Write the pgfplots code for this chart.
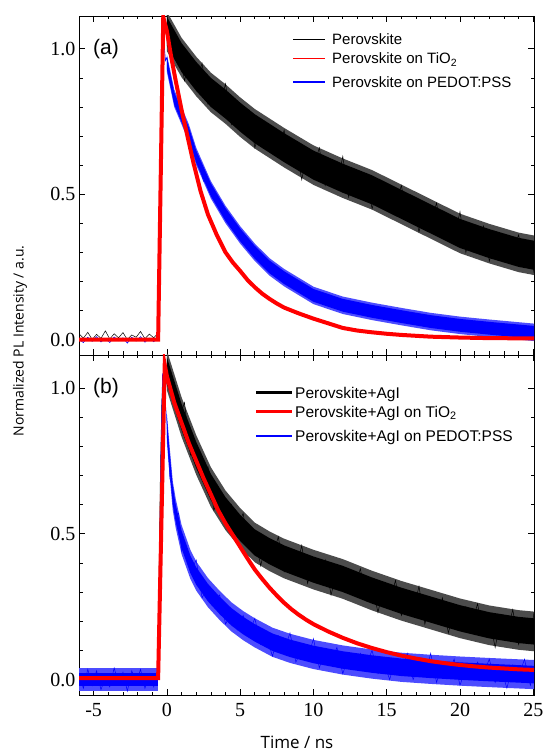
\documentclass[border=0pt]{standalone}
\usepackage{pgfplots}
\pgfplotsset{compat=1.18}
\usepackage{fontspec}
\setmainfont{Liberation Sans}
\newfontfamily\tickfont{Liberation Serif}
\newfontfamily\labfont{Open Sans}

\pgfplotsset{
  panel/.style={
    scale only axis, width=455pt,
    xmin=-6, xmax=25.05, ymin=-0.053, ymax=1.113,
    xtick={-5,0,5,10,15,20,25}, minor x tick num=4,
    ytick={0,0.5,1}, minor y tick num=4,
    yticklabels={{\tickfont 0.0},{\tickfont 0.5},{\tickfont 1.0}},
    tick align=inside, major tick length=6pt, minor tick length=3.5pt,
    axis line style={line width=0.8pt},
    tick style={black, line width=0.7pt},
    xticklabel style={font=\tickfont\fontsize{20}{20}\selectfont, yshift=-5pt},
    yticklabel style={font=\tickfont\fontsize{20}{20}\selectfont},
  },
}

\begin{document}
\begin{tikzpicture}
\useasboundingbox (-79pt,-59pt) rectangle (464pt,695pt);

% ---------- (a) ----------
\begin{axis}[panel, at={(0pt,340pt)}, anchor=south west, height=339pt, xticklabels={}]
% black: halo, core, trace
\addplot[fill=black!70, draw=none] coordinates {
 (0,1.128)(1,1.038)(2,0.973)(3,0.918)(4,0.878)(5,0.833)(6,0.793)(8,0.728)(10,0.668)(12,0.623)(14,0.583)(16,0.533)(18,0.483)(20,0.433)(22,0.398)(24,0.368)(25.05,0.358)
 (25.05,0.222)(24,0.232)(22,0.262)(20,0.297)(18,0.347)(16,0.397)(14,0.447)(12,0.487)(10,0.532)(8,0.592)(6,0.657)(5,0.697)(4,0.742)(3,0.782)(2,0.837)(1,0.902)(0,0.992)};
\addplot[fill=black, draw=none] coordinates {
 (0,1.11)(1,1.02)(2,0.955)(3,0.90)(4,0.86)(5,0.815)(6,0.775)(8,0.71)(10,0.65)(12,0.605)(14,0.565)(16,0.515)(18,0.465)(20,0.415)(22,0.38)(24,0.35)(25.05,0.34)
 (25.05,0.24)(24,0.25)(22,0.28)(20,0.315)(18,0.365)(16,0.415)(14,0.465)(12,0.505)(10,0.55)(8,0.61)(6,0.675)(5,0.715)(4,0.76)(3,0.80)(2,0.855)(1,0.92)(0,1.01)};
\addplot[black, line width=0.5pt] coordinates {
 (-6,0.02)(-5.7,0.005)(-5.4,0.025)(-5.1,0.0)(-4.8,0.018)(-4.5,0.004)(-4.2,0.03)(-3.9,0.002)(-3.6,0.02)(-3.3,0.006)(-3.0,0.024)(-2.7,0.0)(-2.4,0.016)(-2.1,0.008)(-1.8,0.028)(-1.5,0.003)(-1.2,0.019)(-0.9,0.006)(-0.65,0.02)
 (-0.55,0.3)(-0.45,0.7)(-0.35,0.95)(-0.2,1.12)
 (0,1.12)(0.4,0.98)(0.8,1.01)(1.2,0.89)(1.6,0.97)(2.0,0.89)(2.4,0.95)(2.8,0.81)(3.2,0.85)(3.6,0.80)(4.0,0.88)(4.4,0.74)(4.8,0.80)(5.2,0.74)(5.6,0.79)(6.0,0.66)(6.4,0.73)(6.8,0.66)(7.2,0.72)(7.6,0.66)
 (8.0,0.72)(8.4,0.61)(8.8,0.66)(9.2,0.55)(9.6,0.65)(10.0,0.59)(10.4,0.66)(10.8,0.53)(11.2,0.58)(11.6,0.53)(12.0,0.63)(12.4,0.49)(12.8,0.57)(13.2,0.51)(13.6,0.57)(14.0,0.45)(14.4,0.52)(14.8,0.46)(15.2,0.53)(15.6,0.47)
 (16.0,0.53)(16.4,0.42)(16.8,0.47)(17.2,0.37)(17.6,0.46)(18.0,0.40)(18.4,0.47)(18.8,0.35)(19.2,0.40)(19.6,0.35)(20.0,0.44)(20.4,0.30)(20.8,0.38)(21.2,0.32)(21.6,0.39)(22.0,0.27)(22.4,0.34)(22.8,0.28)(23.2,0.35)(23.6,0.30)
 (24.0,0.36)(24.4,0.26)(24.8,0.31)(25.05,0.23)};
% blue: halo, core, trace
\addplot[fill=blue!70, draw=none] coordinates {
 (0,0.98)(0.5,0.86)(1,0.80)(1.5,0.74)(2,0.66)(3,0.545)(4,0.46)(5,0.39)(6,0.33)(7,0.28)(8,0.243)(10,0.182)(12,0.148)(14,0.127)(16,0.109)(18,0.092)(20,0.079)(22,0.069)(25.05,0.055)
 (25.05,-0.005)(22,0.009)(20,0.019)(18,0.032)(16,0.049)(14,0.067)(12,0.088)(10,0.122)(8,0.183)(7,0.22)(6,0.27)(5,0.33)(4,0.40)(3,0.485)(2,0.60)(1.5,0.68)(1,0.74)(0.5,0.80)(0,0.92)};
\addplot[fill=blue, draw=none] coordinates {
 (0,0.97)(0.5,0.85)(1,0.79)(1.5,0.73)(2,0.65)(3,0.537)(4,0.452)(5,0.382)(6,0.322)(7,0.272)(8,0.235)(10,0.174)(12,0.14)(14,0.119)(16,0.101)(18,0.084)(20,0.071)(22,0.061)(25.05,0.047)
 (25.05,0.003)(22,0.017)(20,0.027)(18,0.04)(16,0.057)(14,0.075)(12,0.096)(10,0.13)(8,0.191)(7,0.228)(6,0.278)(5,0.338)(4,0.408)(3,0.493)(2,0.608)(1.5,0.688)(1,0.748)(0.5,0.808)(0,0.93)};
\addplot[blue, line width=0.6pt] coordinates {
 (-6,0.0)(-5.7,-0.01)(-5.4,0.008)(-5.1,-0.006)(-4.8,0.01)(-4.5,-0.008)(-4.2,0.004)(-3.9,-0.01)(-3.6,0.009)(-3.3,-0.004)(-3.0,0.006)(-2.7,-0.012)(-2.4,0.008)(-2.1,-0.005)(-1.8,0.01)(-1.5,-0.009)(-1.2,0.005)(-0.9,-0.007)(-0.65,0.004)
 (-0.5,0.35)(-0.4,0.65)(-0.25,1.05)(-0.1,0.96)
 (0,0.97)(0.5,0.82)(1.0,0.79)(1.5,0.69)(2.0,0.64)(2.5,0.545)(3.0,0.527)(3.5,0.464)(4.0,0.448)(4.5,0.38)(5.0,0.375)(5.5,0.318)(6.0,0.32)(6.5,0.257)(7.0,0.258)(7.5,0.212)(8.0,0.225)(8.5,0.19)(9.0,0.198)(9.5,0.15)
 (10,0.167)(10.5,0.13)(11,0.152)(11.5,0.107)(12,0.126)(12.5,0.092)(13,0.119)(13.5,0.096)(14,0.115)(14.5,0.077)(15,0.103)(15.5,0.071)(16,0.099)(16.5,0.056)(17,0.078)(17.5,0.046)(18,0.074)(18.5,0.052)(19,0.073)(19.5,0.037)
 (20,0.064)(20.5,0.034)(21,0.064)(21.5,0.023)(22,0.047)(22.5,0.016)(23,0.046)(23.5,0.025)(24,0.047)(24.5,0.012)(25.05,0.04)};
% red trace
\addplot[red, line width=4pt] coordinates {
 (-6,0)(-0.6,0)(-0.25,1.11)(0,1.06)(0.3,0.97)(0.6,0.89)(1.0,0.79)(1.4,0.70)(1.8,0.61)(2.3,0.51)(2.8,0.43)(3.4,0.36)(4.0,0.30)(4.5,0.265)(5.0,0.236)(5.5,0.205)(6.0,0.18)(6.5,0.158)(7.0,0.14)(7.5,0.124)
 (8,0.11)(9,0.09)(10,0.072)(11,0.056)(12,0.04)(13,0.031)(14,0.025)(15,0.02)(16,0.016)(18,0.01)(20,0.007)(22,0.005)(25.05,0.004)};
\node[anchor=west, inner sep=0pt, font=\fontsize{21}{21}\selectfont] at (axis cs:-5.05,1.0) {(a)};
\end{axis}

% ---------- (b) ----------
\begin{axis}[panel, at={(0pt,0pt)}, anchor=south west, height=340pt,
  xticklabels={{\tickfont -5},{\tickfont 0},{\tickfont 5},{\tickfont 10},{\tickfont 15},{\tickfont 20},{\tickfont 25}}]
% black: halo, core, trace
\addplot[fill=black!70, draw=none] coordinates {
 (0,1.128)(1,0.968)(2,0.838)(3,0.728)(4,0.648)(5,0.588)(6,0.538)(7,0.508)(8,0.483)(10,0.445)(12,0.413)(14,0.373)(16,0.338)(18,0.308)(20,0.278)(22,0.254)(24,0.238)(25.05,0.233)
 (25.05,0.097)(24,0.102)(22,0.118)(20,0.142)(18,0.172)(16,0.202)(14,0.237)(12,0.277)(10,0.309)(8,0.347)(7,0.372)(6,0.402)(5,0.452)(4,0.512)(3,0.592)(2,0.702)(1,0.832)(0,0.992)};
\addplot[fill=black, draw=none] coordinates {
 (0,1.105)(1,0.945)(2,0.815)(3,0.705)(4,0.625)(5,0.565)(6,0.515)(7,0.485)(8,0.46)(10,0.422)(12,0.39)(14,0.35)(16,0.315)(18,0.285)(20,0.255)(22,0.231)(24,0.215)(25.05,0.21)
 (25.05,0.12)(24,0.125)(22,0.141)(20,0.165)(18,0.195)(16,0.225)(14,0.26)(12,0.30)(10,0.332)(8,0.37)(7,0.395)(6,0.425)(5,0.475)(4,0.535)(3,0.615)(2,0.725)(1,0.855)(0,1.015)};
\addplot[black, line width=0.5pt] coordinates {
 (-6,0.02)(-5.7,0.004)(-5.4,0.026)(-5.1,0.002)(-4.8,0.02)(-4.5,0.005)(-4.2,0.028)(-3.9,0.0)(-3.6,0.022)(-3.3,0.006)(-3.0,0.025)(-2.7,0.002)(-2.4,0.018)(-2.1,0.006)(-1.8,0.027)(-1.5,0.004)(-1.2,0.02)(-0.9,0.005)(-0.65,0.018)
 (-0.55,0.3)(-0.45,0.7)(-0.35,0.95)(-0.2,1.1)
 (0,1.01)(0.4,0.99)(0.8,0.89)(1.2,0.95)(1.6,0.77)(2.0,0.80)(2.4,0.70)(2.8,0.73)(3.2,0.58)(3.6,0.63)(4.0,0.55)(4.4,0.60)(4.8,0.52)(5.2,0.57)(5.6,0.45)(6.0,0.49)(6.4,0.39)(6.8,0.48)(7.2,0.42)(7.6,0.49)
 (8.0,0.37)(8.4,0.42)(8.8,0.37)(9.2,0.46)(9.6,0.33)(10.0,0.41)(10.4,0.35)(10.8,0.41)(11.2,0.29)(11.6,0.37)(12.0,0.31)(12.4,0.38)(12.8,0.32)(13.2,0.38)(13.6,0.27)(14.0,0.33)(14.4,0.23)(14.8,0.32)(15.2,0.27)(15.6,0.34)
 (16.0,0.22)(16.4,0.27)(16.8,0.23)(17.2,0.32)(17.6,0.19)(18.0,0.27)(18.4,0.21)(18.8,0.28)(19.2,0.16)(19.6,0.23)(20.0,0.18)(20.4,0.25)(20.8,0.19)(21.2,0.26)(21.6,0.15)(22.0,0.21)(22.4,0.11)(22.8,0.21)(23.2,0.16)(23.6,0.24)
 (24.0,0.12)(24.4,0.18)(24.8,0.14)(25.05,0.23)};
% blue: halo, core, trace
\addplot[fill=blue!70, draw=none] coordinates {
 (-6,0.04)(-0.6,0.04)(-0.6,-0.04)(-6,-0.04)};
\addplot[fill=blue, draw=none] coordinates {
 (-6,0.022)(-0.6,0.022)(-0.6,-0.022)(-6,-0.022)};
\addplot[fill=blue!70, draw=none] coordinates {
 (0,0.91)(0.2,0.79)(0.4,0.68)(0.6,0.62)(1,0.53)(1.6,0.445)(2,0.405)(2.8,0.348)(3.6,0.304)(4.4,0.265)(5.2,0.235)(6,0.21)(7.2,0.178)(8.4,0.157)(10,0.136)(12,0.117)(14,0.103)(16,0.092)(18,0.085)(20,0.079)(22,0.074)(25.05,0.067)
 (25.05,-0.033)(22,-0.026)(20,-0.021)(18,-0.015)(16,-0.008)(14,0.003)(12,0.017)(10,0.036)(8.4,0.057)(7.2,0.078)(6,0.11)(5.2,0.135)(4.4,0.165)(3.6,0.204)(2.8,0.248)(2,0.305)(1.6,0.345)(1,0.43)(0.6,0.52)(0.4,0.58)(0.2,0.69)(0,0.81)};
\addplot[fill=blue, draw=none] coordinates {
 (0,0.89)(0.2,0.77)(0.4,0.66)(0.6,0.60)(1,0.51)(1.6,0.425)(2,0.385)(2.8,0.328)(3.6,0.284)(4.4,0.245)(5.2,0.215)(6,0.19)(7.2,0.158)(8.4,0.137)(10,0.116)(12,0.097)(14,0.083)(16,0.072)(18,0.065)(20,0.059)(22,0.054)(25.05,0.047)
 (25.05,-0.013)(22,-0.006)(20,-0.001)(18,0.005)(16,0.012)(14,0.023)(12,0.037)(10,0.056)(8.4,0.077)(7.2,0.098)(6,0.13)(5.2,0.155)(4.4,0.185)(3.6,0.224)(2.8,0.268)(2,0.325)(1.6,0.365)(1,0.45)(0.6,0.54)(0.4,0.60)(0.2,0.71)(0,0.83)};
\addplot[blue, line width=0.5pt] coordinates {
 (-6,0.02)(-5.7,-0.03)(-5.4,0.035)(-5.1,-0.02)(-4.8,0.03)(-4.5,-0.035)(-4.2,0.01)(-3.9,-0.025)(-3.6,0.04)(-3.3,-0.015)(-3.0,0.025)(-2.7,-0.04)(-2.4,0.03)(-2.1,-0.01)(-1.8,0.035)(-1.5,-0.03)(-1.2,0.02)(-0.9,-0.025)(-0.65,0.03)
 (-0.5,0.4)(-0.4,0.8)(-0.3,1.05)(-0.15,0.98)
 (0,0.88)(0.2,0.69)(0.4,0.66)(0.6,0.56)(0.8,0.57)(1.0,0.44)(1.2,0.46)(1.6,0.37)(2.0,0.41)(2.4,0.28)(2.8,0.32)(3.2,0.26)(3.6,0.29)(4.0,0.19)(4.4,0.23)(4.8,0.17)(5.2,0.22)(5.6,0.16)(6.0,0.21)(6.4,0.12)
 (6.8,0.15)(7.2,0.08)(7.6,0.15)(8.0,0.10)(8.4,0.16)(8.8,0.06)(9.2,0.10)(9.6,0.07)(10.0,0.14)(10.4,0.04)(10.8,0.10)(11.2,0.06)(11.6,0.11)(12.0,0.02)(12.4,0.08)(12.8,0.04)(13.2,0.09)(13.6,0.05)(14.0,0.10)(14.4,0.02)
 (14.8,0.06)(15.2,0.00)(15.6,0.07)(16.0,0.03)(16.4,0.09)(16.8,0.00)(17.2,0.05)(17.6,0.01)(18.0,0.09)(18.4,-0.01)(18.8,0.06)(19.2,0.02)(19.6,0.07)(20.0,-0.02)(20.4,0.04)(20.8,0.00)(21.2,0.06)(21.6,0.02)(22.0,0.07)(22.4,-0.01)
 (22.8,0.04)(23.2,-0.03)(23.6,0.05)(24.0,0.01)(24.4,0.07)(24.8,-0.02)(25.05,0.03)};
% red trace, on top
\addplot[red, line width=4pt] coordinates {
 (-6,0.005)(-0.6,0.005)(-0.15,1.08)(0,1.04)(0.5,0.95)(1,0.88)(1.5,0.81)(2,0.75)(2.5,0.69)(3,0.635)(3.5,0.58)(4,0.535)(4.5,0.495)(5,0.455)(5.5,0.415)(6,0.377)(6.5,0.345)(7,0.315)(7.5,0.288)(8,0.263)
 (8.5,0.241)(9,0.222)(9.5,0.205)(10,0.19)(11,0.165)(12,0.143)(13,0.124)(14,0.108)(15,0.094)(16,0.082)(17,0.072)(18,0.063)(19,0.056)(20,0.05)(21,0.045)(22,0.041)(23,0.038)(24,0.035)(25.05,0.033)};
\node[anchor=west, inner sep=0pt, font=\fontsize{21}{21}\selectfont] at (axis cs:-5.05,1.0) {(b)};
\end{axis}

% legends
\begin{scope}[font=\fontsize{15}{15}\selectfont]
\draw[black, line width=1.3pt] (214pt,655.7pt) -- (246pt,655.7pt);
\node[anchor=base west, inner sep=0pt] at (253pt,650.3pt) {Perovskite};
\draw[red, line width=1.4pt] (214pt,636.7pt) -- (246pt,636.7pt);
\node[anchor=base west, inner sep=0pt] at (253pt,631.3pt) {Perovskite on TiO\textsubscript{2}};
\draw[blue, line width=2pt] (214pt,613.3pt) -- (246pt,613.3pt);
\node[anchor=base west, inner sep=0pt] at (253pt,607.9pt) {Perovskite on PEDOT:PSS};
\end{scope}
\begin{scope}[font=\fontsize{15.5}{15.5}\selectfont]
\draw[black, line width=2.4pt] (177pt,302.3pt) -- (213pt,302.3pt);
\node[anchor=base west, inner sep=0pt] at (216pt,296.7pt) {Perovskite+AgI};
\draw[red, line width=2.4pt] (177pt,283.3pt) -- (213pt,283.3pt);
\node[anchor=base west, inner sep=0pt] at (216pt,277.7pt) {Perovskite+AgI on TiO\textsubscript{2}};
\draw[blue, line width=2pt] (177pt,259.3pt) -- (213pt,259.3pt);
\node[anchor=base west, inner sep=0pt] at (216pt,253.7pt) {Perovskite+AgI on PEDOT:PSS};
\end{scope}

\node[rotate=90, font=\labfont\fontsize{14}{14}\selectfont] at (-59pt,354pt) {Normalized PL Intensity / a.u.};
\node[font=\labfont\fontsize{17}{17}\selectfont] at (218pt,-47pt) {Time / ns};
\end{tikzpicture}
\end{document}
